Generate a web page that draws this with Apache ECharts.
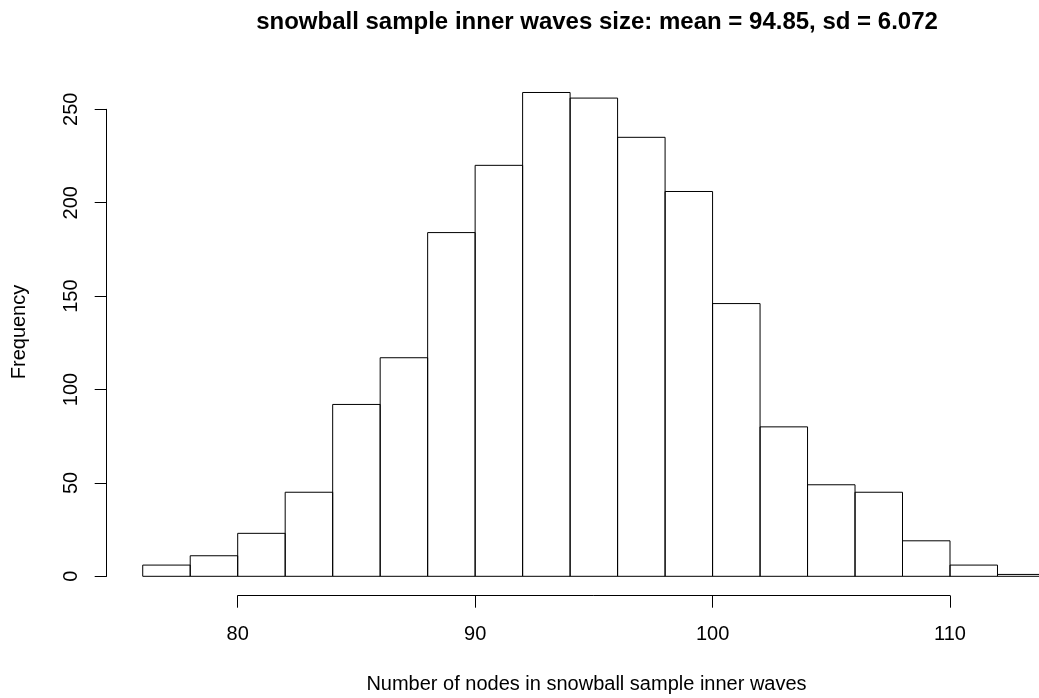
<!DOCTYPE html>
<html>
<head>
<meta charset="utf-8">
<script src="https://cdn.jsdelivr.net/npm/echarts@6/dist/echarts.min.js"></script>
<style>
  html, body { margin: 0; padding: 0; background: #fff; }
  #chart { width: 1039px; height: 698px; }
</style>
</head>
<body>
<div id="chart"></div>
<script>
const breaks = [76, 78, 80, 82, 84, 86, 88, 90, 92, 94, 96, 98, 100, 102, 104, 106, 108, 110, 112, 114];
const counts = [6, 11, 23, 45, 92, 117, 184, 220, 259, 256, 235, 206, 146, 80, 49, 45, 19, 6, 1];
const xTicks = [80, 90, 100, 110];
const yTicks = [0, 50, 100, 150, 200, 250];

const titleText = 'snowball sample inner waves size: mean = 94.85, sd = 6.072';
const xTitle = 'Number of nodes in snowball sample inner waves';
const yTitle = 'Frequency';

document.addEventListener('DOMContentLoaded', () => {
  const chart = echarts.init(document.getElementById('chart'));
  const font = 'Liberation Sans, Arial, Helvetica, sans-serif';

  const bins = counts.map((c, i) => [breaks[i], breaks[i + 1], c]);

  chart.setOption({
    animation: false,
    backgroundColor: '#fff',
    title: {
      text: titleText,
      left: 592,
      textAlign: 'center',
      top: 5,
      textStyle: { fontFamily: font, fontSize: 24, fontWeight: 'bold', color: '#000' }
    },
    grid: {
      left: 237.7,
      right: 89,
      top: 109.3,
      bottom: 121.7
    },
    xAxis: {
      type: 'value',
      min: xTicks[0],
      max: xTicks[xTicks.length - 1],
      interval: 10,
      offset: 19.4,
      axisLine: { show: true, onZero: false, lineStyle: { color: '#000', width: 1 } },
      axisTick: { show: true, length: 12, lineStyle: { color: '#000', width: 1 } },
      axisLabel: { color: '#000', fontSize: 20, fontFamily: font, margin: 29 },
      splitLine: { show: false }
    },
    yAxis: {
      type: 'value',
      min: yTicks[0],
      max: yTicks[yTicks.length - 1],
      interval: 50,
      offset: 131,
      axisLine: { show: true, onZero: false, lineStyle: { color: '#000', width: 1 } },
      axisTick: { show: true, length: 12, lineStyle: { color: '#000', width: 1 } },
      axisLabel: { color: '#000', fontSize: 20, fontFamily: font, rotate: 90, margin: 25 },
      splitLine: { show: false }
    },
    graphic: [
      {
        type: 'text',
        x: 19,
        y: 332,
        rotation: Math.PI / 2,
        style: {
          text: yTitle,
          font: '20px ' + font,
          fill: '#000',
          align: 'center',
          verticalAlign: 'middle'
        }
      },
      {
        type: 'text',
        x: 586.5,
        y: 684,
        style: {
          text: xTitle,
          font: '20px ' + font,
          fill: '#000',
          align: 'center',
          verticalAlign: 'middle'
        }
      }
    ],
    series: [{
      type: 'custom',
      clip: false,
      data: bins,
      encode: { x: [0, 1], y: 2 },
      renderItem: (params, api) => {
        const topLeft = api.coord([api.value(0), api.value(2)]);
        const bottomRight = api.coord([api.value(1), 0]);
        return {
          type: 'rect',
          shape: {
            x: topLeft[0],
            y: topLeft[1],
            width: bottomRight[0] - topLeft[0],
            height: bottomRight[1] - topLeft[1]
          },
          style: { fill: 'none', stroke: '#000', lineWidth: 1 }
        };
      }
    }]
  });

  window.addEventListener('resize', () => chart.resize());
});
</script>
</body>
</html>
